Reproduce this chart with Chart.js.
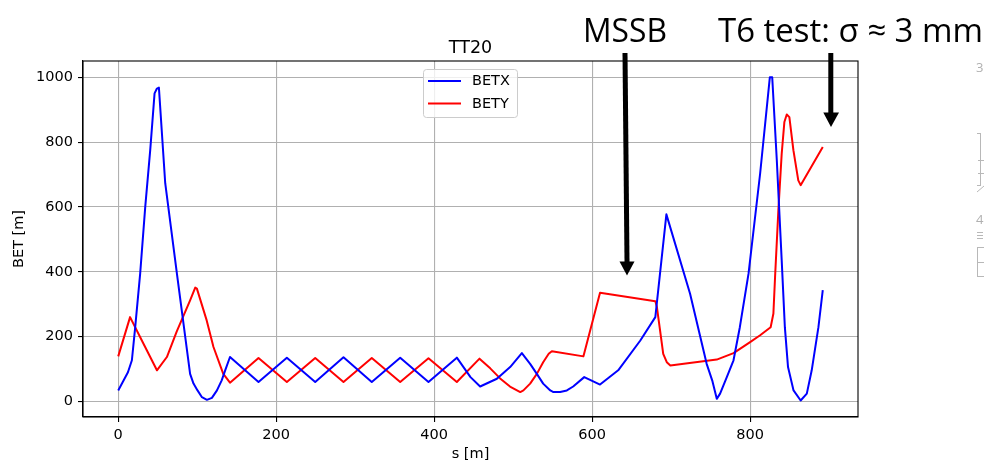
<!DOCTYPE html>
<html>
<head>
<meta charset="utf-8">
<script src="https://cdn.jsdelivr.net/npm/chart.js@4/dist/chart.umd.min.js"></script>
<style>
html,body{margin:0;padding:0;background:#fff;}
#wrap{width:984px;height:462px;position:relative;}
canvas{display:block;}
</style>
</head>
<body>
<div id="wrap"><canvas id="c" width="984" height="462"></canvas></div>
<script>
// ---- data ----
const chartTitle = "TT20";
const xLabel = "s [m]";
const yLabel = "BET [m]";
const xTicks = [0, 200, 400, 600, 800];
const yTicks = [0, 200, 400, 600, 800, 1000];
const seriesNames = ["BETX", "BETY"];
const annotationTexts = ["MSSB", "T6 test: σ ≈ 3 mm"];

const betxS = [0, 12.3, 17.3, 21.5, 27.8, 34.2, 40.5, 46, 49, 51.5, 59.5, 74.3, 91, 95.3, 100.4, 106, 112.3, 118.6, 125, 131, 135.4, 141.5,
  177.6, 213.5, 249.4, 285.2, 321, 357, 392.8, 428.7, 446, 458.2, 479.4, 496.2, 511, 521.5, 530, 538, 547, 551, 559.5, 568, 576, 590, 610,
  633, 661, 680, 694, 724, 745, 752, 757.8, 762, 770.5, 779, 787, 798, 812.7, 825, 828, 833.8, 840, 844, 848, 855, 864, 871.8, 878, 886.5, 892];
const betxV = [34, 90, 127, 229, 395, 600, 775, 950, 965, 968, 673, 394, 85, 55, 34, 13, 5, 11, 34, 65, 96, 137,
  60, 135, 60, 136, 60, 135, 60, 135, 75, 46, 70, 106, 149, 116, 85, 55, 34, 29, 29, 34, 46, 75, 52,
  96, 188, 260, 577, 332, 116, 65, 8, 24, 75, 127, 229, 394, 703, 1000, 1000, 744, 435, 229, 106, 34, 3, 24, 96, 229, 343];

const betyS = [0, 15, 32, 49, 61.6, 74, 91, 97.5, 99.6, 112, 120.6, 133, 141.5, 177.6, 213.5, 249.4, 285.2, 321, 357, 392.8, 428.7, 457.4,
  471, 483.5, 496, 509, 513, 521.5, 530, 538, 545, 549, 589, 610, 680, 682, 686, 690, 694.5, 699, 757.8, 779, 800, 812.7, 826,
  829.5, 831.6, 835.8, 840, 843.4, 846.4, 849.7, 854.8, 861, 864, 892];
const betyV = [139, 260, 178, 96, 137, 215, 312, 351, 348, 250, 168, 85, 58, 134, 60, 134, 60, 134, 60, 133, 60, 132,
  102, 71, 46, 29, 34, 55, 85, 121, 147, 155, 139, 335, 309, 291, 219, 147, 121, 111, 129, 149, 183, 204, 229,
  271, 384, 590, 764, 862, 885, 877, 775, 682, 667, 785];

const seriesColors = ["#0000ff", "#ff0000"];

function pts(xs, ys){ return xs.map((x,i)=>({x:x, y:ys[i]})); }

const FONT = "'DejaVu Sans', sans-serif";

const decor = {
  id: 'decor',
  afterDraw(chart){
    const ctx = chart.ctx;
    const a = chart.chartArea;
    ctx.save();
    // spines
    ctx.strokeStyle = '#000';
    ctx.lineWidth = 1.1;
    ctx.strokeRect(a.left, a.top, a.right - a.left, a.bottom - a.top);

    // legend
    const lx = 423.5, ly = 69.5, lw = 94, lh = 48, r = 3;
    ctx.beginPath();
    ctx.moveTo(lx + r, ly);
    ctx.lineTo(lx + lw - r, ly); ctx.quadraticCurveTo(lx + lw, ly, lx + lw, ly + r);
    ctx.lineTo(lx + lw, ly + lh - r); ctx.quadraticCurveTo(lx + lw, ly + lh, lx + lw - r, ly + lh);
    ctx.lineTo(lx + r, ly + lh); ctx.quadraticCurveTo(lx, ly + lh, lx, ly + lh - r);
    ctx.lineTo(lx, ly + r); ctx.quadraticCurveTo(lx, ly, lx + r, ly);
    ctx.closePath();
    ctx.fillStyle = 'rgba(255,255,255,0.8)';
    ctx.fill();
    ctx.strokeStyle = '#cccccc';
    ctx.lineWidth = 1;
    ctx.stroke();
    const rows = [81, 103.5];
    chart.data.datasets.forEach((ds, i) => {
      ctx.strokeStyle = ds.borderColor;
      ctx.lineWidth = 2;
      ctx.beginPath();
      ctx.moveTo(428, rows[i]); ctx.lineTo(461, rows[i]);
      ctx.stroke();
      ctx.fillStyle = '#000';
      ctx.font = '14.5px ' + FONT;
      ctx.textAlign = 'left';
      ctx.textBaseline = 'middle';
      ctx.fillText(ds.label, 472, rows[i] + 0.5);
    });

    // title
    ctx.fillStyle = '#000';
    ctx.font = '17.5px ' + FONT;
    ctx.textAlign = 'center';
    ctx.textBaseline = 'alphabetic';
    ctx.fillText(chartTitle, (a.left + a.right) / 2, 52.5);

    // axis labels
    ctx.font = '14.5px ' + FONT;
    ctx.textBaseline = 'middle';
    ctx.fillText(xLabel, (a.left + a.right) / 2, 454);
    ctx.save();
    ctx.translate(19, (a.top + a.bottom) / 2);
    ctx.rotate(-Math.PI / 2);
    ctx.fillText(yLabel, 0, 0);
    ctx.restore();

    // annotation texts (fit to width)
    function fitText(txt, left, right, baseline, size){
      ctx.font = size + "px 'Open Sans', 'Noto Sans', sans-serif";
      ctx.textAlign = 'left';
      ctx.textBaseline = 'alphabetic';
      const w = ctx.measureText(txt).width;
      const sx = (right - left) / w;
      ctx.save();
      ctx.translate(left, baseline);
      ctx.scale(sx, 1);
      ctx.fillStyle = '#000';
      ctx.fillText(txt, 0, 0);
      ctx.restore();
    }
    fitText(annotationTexts[0], 583, 667, 42, 33.5);
    fitText(annotationTexts[1], 718, 983, 42, 33.5);

    // arrows
    ctx.fillStyle = '#000';
    ctx.beginPath();
    ctx.moveTo(622.5, 53); ctx.lineTo(627.5, 53); ctx.lineTo(629.5, 262); ctx.lineTo(624.5, 262); ctx.closePath();
    ctx.fill();
    ctx.beginPath();
    ctx.moveTo(619.5, 261.5); ctx.lineTo(634.5, 261.5); ctx.lineTo(627, 275.5); ctx.closePath();
    ctx.fill();
    ctx.beginPath();
    ctx.moveTo(828.3, 53); ctx.lineTo(833.3, 53); ctx.lineTo(833.3, 113); ctx.lineTo(828.3, 113); ctx.closePath();
    ctx.fill();
    ctx.beginPath();
    ctx.moveTo(823.3, 112.5); ctx.lineTo(839, 112.5); ctx.lineTo(831, 127); ctx.closePath();
    ctx.fill();

    // faint cropped fragments at right edge
    ctx.strokeStyle = '#b8b8b8';
    ctx.fillStyle = '#b0b0b0';
    ctx.lineWidth = 1;
    ctx.font = "13px 'Open Sans', sans-serif";
    ctx.textAlign = 'left';
    ctx.textBaseline = 'alphabetic';
    ctx.fillText('3', 976, 72);
    ctx.fillText('4', 976, 224);
    ctx.beginPath();
    ctx.moveTo(980.5, 133); ctx.lineTo(980.5, 186);
    ctx.moveTo(977, 133.5); ctx.lineTo(981, 133.5);
    ctx.moveTo(978, 160.5); ctx.lineTo(984, 160.5);
    ctx.moveTo(978, 173.5); ctx.lineTo(984, 173.5);
    ctx.moveTo(977, 185.5); ctx.lineTo(981, 185.5);
    ctx.moveTo(977, 192); ctx.lineTo(984, 186);
    ctx.moveTo(977, 232.5); ctx.lineTo(983, 232.5);
    ctx.moveTo(977, 235.5); ctx.lineTo(983, 235.5);
    ctx.moveTo(977, 238.5); ctx.lineTo(983, 238.5);
    ctx.moveTo(977.5, 247); ctx.lineTo(977.5, 277);
    ctx.moveTo(977, 247.5); ctx.lineTo(984, 247.5);
    ctx.moveTo(977, 262.5); ctx.lineTo(984, 262.5);
    ctx.moveTo(977, 276.5); ctx.lineTo(984, 276.5);
    ctx.stroke();
    ctx.restore();
  }
};

const tickOpts = { font: { family: FONT, size: 14.5 }, color: '#000', padding: 5, maxRotation: 0, autoSkip: false,
  callback: v => String(v) };
const gridOpts = { color: '#b0b0b0', lineWidth: 1.1, tickLength: 5, tickColor: '#000', tickWidth: 1.1, drawTicks: true };

new Chart(document.getElementById('c'), {
  type: 'line',
  data: {
    datasets: [
      { label: seriesNames[0], data: pts(betxS, betxV), borderColor: seriesColors[0], backgroundColor: seriesColors[0],
        borderWidth: 2, pointRadius: 0, tension: 0, fill: false, borderJoinStyle: 'round' },
      { label: seriesNames[1], data: pts(betyS, betyV), borderColor: seriesColors[1], backgroundColor: seriesColors[1],
        borderWidth: 2, pointRadius: 0, tension: 0, fill: false, borderJoinStyle: 'round' }
    ]
  },
  options: {
    responsive: false,
    animation: false,
    devicePixelRatio: 1,
    layout: { padding: { left: 0, right: 126, top: 61, bottom: 0 } },
    plugins: { legend: { display: false }, title: { display: false }, tooltip: { enabled: false } },
    scales: {
      x: {
        type: 'linear', min: -44.6, max: 936.6,
        afterBuildTicks: s => { s.ticks = xTicks.map(v => ({ value: v })); },
        afterFit: s => { s.height = 45; },
        ticks: tickOpts, grid: gridOpts,
        border: { display: true, color: '#000', width: 1.1 }
      },
      y: {
        type: 'linear', min: -48, max: 1050,
        afterBuildTicks: s => { s.ticks = yTicks.map(v => ({ value: v })); },
        afterFit: s => { s.width = 83; },
        ticks: tickOpts, grid: gridOpts,
        border: { display: true, color: '#000', width: 1.1 }
      }
    }
  },
  plugins: [decor]
});
</script>
</body>
</html>
